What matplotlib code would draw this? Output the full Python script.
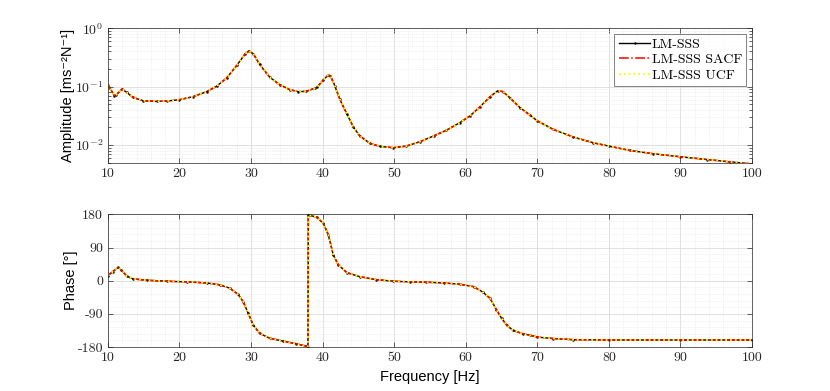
import matplotlib
matplotlib.use("Agg")
import matplotlib.pyplot as plt
from matplotlib.ticker import MultipleLocator, LogLocator, FixedLocator, NullFormatter

plt.rcParams["font.family"] = "serif"
plt.rcParams["font.serif"] = ["cmr10"]
plt.rcParams["mathtext.fontset"] = "cm"
plt.rcParams["axes.unicode_minus"] = False

# amplitude
amp_freq = [10, 10.9, 11.2, 12.0, 12.6, 13.5, 14.9, 16.8, 18.2, 20.0, 21.9, 23.8, 25.2,
            26.6, 28.0, 29.2, 29.7, 30.3, 31.2, 32.6, 34.0, 35.4, 36.6, 37.7, 38.9, 39.2,
            40.1, 40.8, 41.1, 41.7, 42.4, 43.4, 44.3, 45.2, 46.6, 48.0, 49.9, 51.7, 53.6,
            55.5, 57.3, 59.2, 60.6, 62.0, 63.4, 64.5, 65.2, 66.2, 67.6, 69.0, 70, 72.2,
            75, 77.8, 80, 82.9, 86.2, 90, 93.7, 96.9, 100]
amp_vals = [0.108, 0.070, 0.073, 0.091, 0.080, 0.0655, 0.0574, 0.0558, 0.0566, 0.0597,
            0.0673, 0.082, 0.1014, 0.141, 0.230, 0.366, 0.406, 0.366, 0.240, 0.145, 0.108,
            0.0887, 0.082, 0.083, 0.0935, 0.0975, 0.130, 0.158, 0.153, 0.104, 0.0612,
            0.0338, 0.0204, 0.0143, 0.0107, 0.00948, 0.0090, 0.0096, 0.0114, 0.0143,
            0.0179, 0.0243, 0.0316, 0.0452, 0.0673, 0.0853, 0.082, 0.0638, 0.0435,
            0.0324, 0.0259, 0.0186, 0.01374, 0.01096, 0.0096, 0.0081, 0.0071, 0.0063,
            0.00566, 0.00516, 0.00476]

# phase (deg)
ph_freq = [10, 10.7, 11.4, 11.9, 12.6, 13.5, 15.4, 18.2, 21.0, 23.8, 25.6, 27.0, 28.2,
           28.9, 29.6, 30.3, 31.2, 32.6, 34.5, 36.3, 37.8, 37.95, 38.0, 38.2, 39.2, 40.1,
           40.8, 41.5, 42.2, 43.4, 45.2, 47.5, 49.9, 52.2, 54.5, 56.9, 59.2, 61.1, 62.4,
           63.4, 64.3, 65.0, 65.7, 66.6, 68.0, 69.0, 70, 72.2, 75, 80, 90, 100]
ph_vals = [14, 25, 36, 29, 13, 5, 1.4, -1.4, -3, -6, -11, -20, -37, -57, -88, -120, -143,
           -156, -164, -171, -178, -179, 179, 178, 172, 156, 125, 70, 43, 22, 11, 3, -1.4,
           -3, -4, -6, -9.5, -16, -31, -48, -79, -102, -120, -135, -144, -148, -153, -157,
           -160, -161, -161, -161]

series = ["LM-SSS", "LM-SSS SACF", "LM-SSS UCF"]
styles = [dict(color="black", ls="-", marker=".", ms=1.5, lw=1.0),
          dict(color="red", ls="-.", lw=1.1),
          dict(color="#ffff00", ls=":", lw=1.3)]

fig = plt.figure(figsize=(8.3, 3.91), dpi=100)
ax1 = fig.add_axes([0.130, 0.584, 0.776, 0.344])
ax2 = fig.add_axes([0.130, 0.1125, 0.776, 0.339])

for name, st in zip(series, styles):
    ax1.plot(amp_freq, amp_vals, label=name, **st)
    ax2.plot(ph_freq, ph_vals, label=name, **st)

label_font = dict(family=["Liberation Sans", "DejaVu Sans"], fontsize=10.5)

ax1.set_yscale("log")
ax1.set_ylim(0.005, 1)
ax1.yaxis.set_major_locator(LogLocator(base=10, numticks=10))
ax1.yaxis.set_minor_locator(LogLocator(base=10, subs=range(2, 10), numticks=20))
ax1.yaxis.set_minor_formatter(NullFormatter())
ax1.set_ylabel("Amplitude [ms\u207b\u00b2N\u207b\u00b9]", labelpad=0, **label_font)

ax2.set_ylim(-180, 180)
ax2.yaxis.set_major_locator(FixedLocator([-180, -90, 0, 90, 180]))
ax2.set_yticklabels(["-180", "-90", "0", "90", "180"])
ax2.yaxis.set_minor_locator(MultipleLocator(18))
ax2.set_ylabel("Phase [\u00b0]", labelpad=0, **label_font)
ax2.set_xlabel("Frequency [Hz]", labelpad=4, **label_font)

for ax in (ax1, ax2):
    ax.set_xlim(10, 100)
    ax.xaxis.set_major_locator(MultipleLocator(10))
    ax.xaxis.set_minor_locator(MultipleLocator(2))
    ax.grid(True, which="major", color="#dcdcdc", lw=0.6)
    ax.grid(True, which="minor", color="#e2e2e2", lw=0.5, ls=":")
    ax.set_axisbelow(True)
    ax.tick_params(which="both", direction="in", top=True, right=True,
                   labelsize=10, colors="#262626", width=0.5)
    ax.tick_params(which="major", length=3.5)
    ax.tick_params(which="minor", length=2)
    for sp in ax.spines.values():
        sp.set_color("#262626")
        sp.set_linewidth(0.5)

ax1.tick_params(axis="x", which="minor", length=0)
ax2.tick_params(axis="both", which="minor", length=0)

leg = ax1.legend(loc="upper right", fontsize=10, frameon=True, fancybox=False,
                 borderpad=0.3, labelspacing=0.2, handlelength=2.3, handletextpad=0.1,
                 borderaxespad=0.4)
leg.get_frame().set_edgecolor("#262626")
leg.get_frame().set_linewidth(0.5)

fig.savefig("out.png", dpi=100)
